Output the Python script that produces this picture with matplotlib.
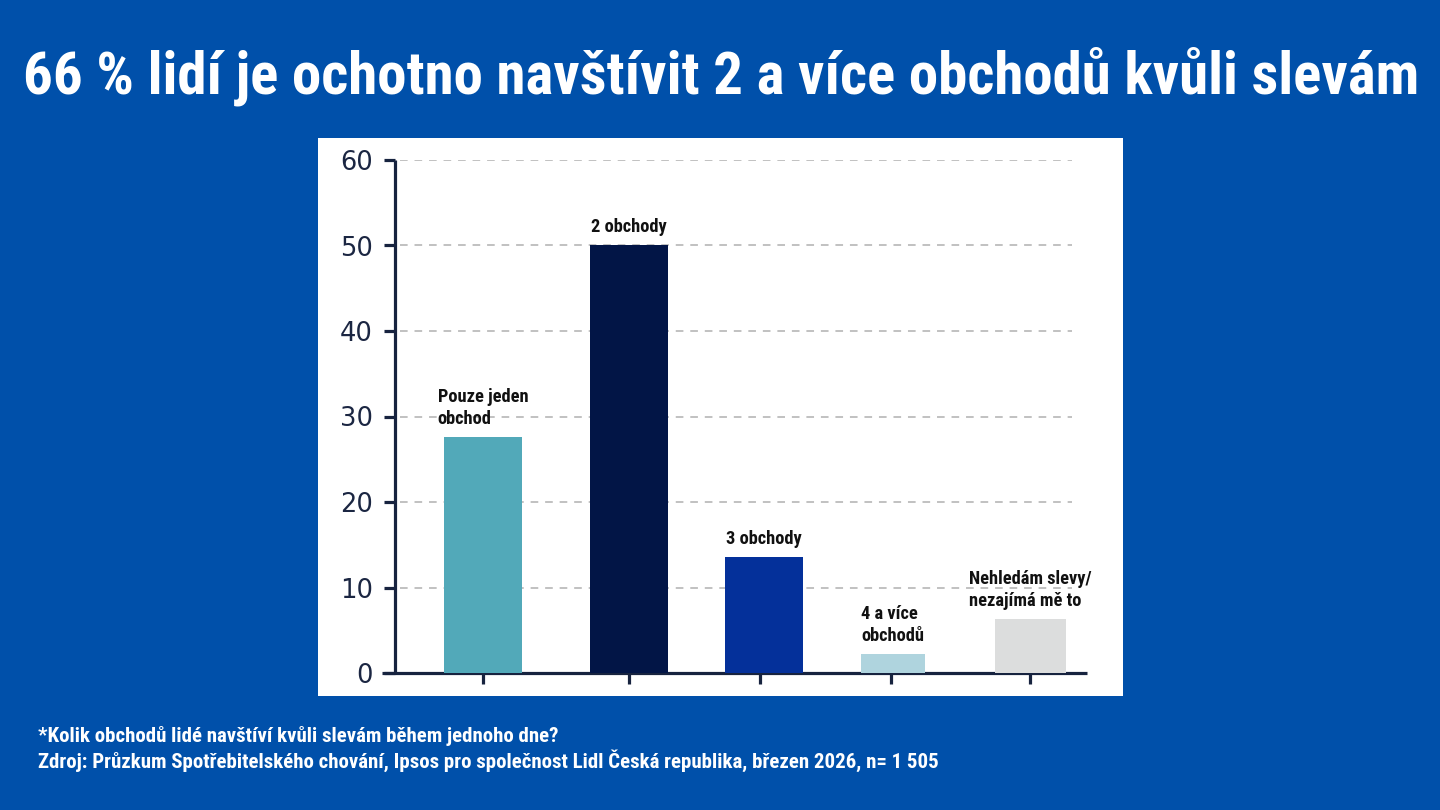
import matplotlib
matplotlib.use("Agg")
import matplotlib.pyplot as plt
from matplotlib import font_manager as fm
from matplotlib.font_manager import FontProperties

# ---------------- data ----------------
categories = ["Pouze jeden\nobchod", "2 obchody", "3 obchody",
              "4 a více\nobchodů", "Nehledám slevy/\nnezajímá mě to"]
values = [27.6, 50.0, 13.6, 2.2, 6.3]
yticks = [0, 10, 20, 30, 40, 50, 60]
title = "66 % lidí je ochotno navštívit 2 a více obchodů kvůli slevám"
footnote = "*Kolik obchodů lidé navštíví kvůli slevám během jednoho dne?"
source = ("Zdroj: Průzkum Spotřebitelského chování, Ipsos pro společnost Lidl "
          "Česká republika, březen 2026, n= 1 505")

# ---------------- layout / style ----------------
W, H = 1440, 810
bar_pos = [0, 1, 1.925, 2.808, 3.747]
tick_pos = [0, 1, 1.897, 2.795, 3.747]
bar_w = [0.534, 0.534, 0.534, 0.438, 0.486]
colors = ["#52A9B9", "#021546", "#04309A", "#AFD4DE", "#DCDDDD"]
BG = "#0050AA"
AXC = "#17233F"
PX_PER_UNIT = 146.0
X0_PX = 483.0

names = {f.name for f in fm.fontManager.ttflist}
cond_fp = None
for cand in ["Liberation Sans Narrow", "Roboto Condensed", "Open Sans Condensed",
             "Noto Sans Condensed", "DejaVu Sans Condensed"]:
    if cand in names:
        cond_fp = FontProperties(family=cand, weight="bold")
        break
if cond_fp is None:
    cond_fp = FontProperties(family="Noto Sans", weight="bold", stretch="condensed")

fig = plt.figure(figsize=(W / 100, H / 100), dpi=100)
fig.patch.set_facecolor(BG)

# white panel
panel = fig.add_axes([318 / W, (H - 696) / H, 805 / W, 558 / H])
panel.set_facecolor("white")
panel.set_xticks([]); panel.set_yticks([])
for s in panel.spines.values():
    s.set_visible(False)

# main axes
ax = fig.add_axes([382 / W, (H - 673) / H, 705 / W, 513 / H])
ax.patch.set_alpha(0)
ax.set_xlim((382 - X0_PX) / PX_PER_UNIT, (1087 - X0_PX) / PX_PER_UNIT)
ax.set_ylim(0, 60)
for side in ["top", "right"]:
    ax.spines[side].set_visible(False)
ax.spines["left"].set_position(("data", (395 - X0_PX) / PX_PER_UNIT))
for side in ["left", "bottom"]:
    ax.spines[side].set_linewidth(2.3)
    ax.spines[side].set_color(AXC)
    ax.spines[side].set_capstyle("butt")

ax.set_yticks(yticks)
ax.set_yticklabels([str(v) for v in yticks])
ax.set_xticks(tick_pos)
ax.set_xticklabels([])
ax.tick_params(axis="y", length=8, width=2.3, color=AXC, pad=8,
               labelsize=18.5, labelcolor="#1B2642")
ax.tick_params(axis="x", length=8, width=2.3, color=AXC, direction="out")
for lab in ax.get_yticklabels():
    lab.set_fontfamily("DejaVu Sans")

gx0 = (400 - 382) / 705
gx1 = (1072 - 382) / 705
for y in yticks[1:]:
    ax.axhline(y, xmin=gx0, xmax=gx1, color="#B0B0B0", lw=1.1,
               ls=(0, (5, 4.5)), zorder=1)

ax.bar(bar_pos, values, width=bar_w, color=colors, zorder=3)

labels = []
for x, v, c in zip(bar_pos, values, categories):
    t = ax.annotate(c, (x, v), xytext=(0, 6.5), textcoords="offset points",
                    ha="center", va="bottom", multialignment="left",
                    fontproperties=cond_fp, fontsize=12, color="#111111",
                    linespacing=1.3, zorder=4)
    labels.append(t)

ttl = fig.text(0.5 * (22 + 1420) / W, 1 - 93 / H, title, ha="center",
               va="baseline", color="white", fontproperties=cond_fp, fontsize=38)
fn1 = fig.text(38 / W, 1 - 741.5 / H, footnote, ha="left", va="baseline",
               color="white", fontproperties=cond_fp, fontsize=13)
fn2 = fig.text(38 / W, 1 - 767.5 / H, source, ha="left", va="baseline",
               color="white", fontproperties=cond_fp, fontsize=13)

# fit text widths to the reference widths
r = fig.canvas.get_renderer()
def fit(t, target_px):
    w = t.get_window_extent(r).width
    t.set_fontsize(t.get_fontsize() * target_px / w)

fit(ttl, 1398)
fit(fn2, 898)
fn1.set_fontsize(fn2.get_fontsize())
fit(labels[1], 76)
for t in labels:
    t.set_fontsize(labels[1].get_fontsize())

fig.savefig("out.png", dpi=100, facecolor=BG)
